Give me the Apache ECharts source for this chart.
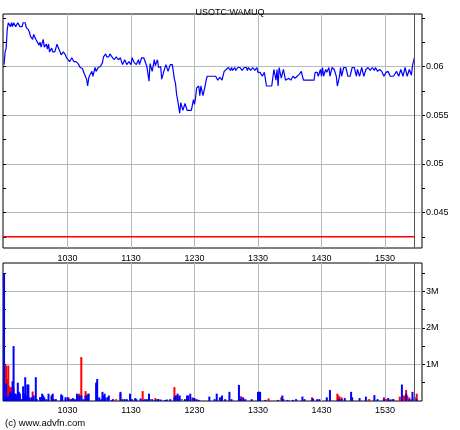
<!DOCTYPE html>
<html><head><meta charset="utf-8">
<script src="https://cdn.jsdelivr.net/npm/echarts@6/dist/echarts.min.js"></script>
<style>html,body{margin:0;padding:0;background:#fff}#c{width:460px;height:430px}</style>
</head><body><div id="c"></div>
<script>
const chartTitle = 'USOTC:WAMUQ';
const copyrightText = '(c) www.advfn.com';
// x axis in minutes after midnight
const timeMin = 569, timeMax = 965;
const hourTicks = [630, 690, 750, 810, 870, 930];
const sessionEnd = 957.5;
const prevClose = 0.0425;
const priceMin = 0.04135, priceMax = 0.0654;
const priceLabelTicks = [0.045, 0.05, 0.055, 0.06];
const priceMinorTicks = [0.0425, 0.045, 0.0475, 0.05, 0.0525, 0.055, 0.0575, 0.06, 0.0625, 0.065];
const volMax = 3.77; // millions
const volLabelTicks = [1, 2, 3];
const volMinorTicks = [0.5, 1, 1.5, 2, 2.5, 3, 3.5];

const priceTimes = [570,571,572,573,574,576,577,578,579,581,583,585,587,588,590,591,593,594,595,597,598,600,601,603,604,605,607,608,610,611,612,613,615,616,618,620,621,623,624,626,628,629,630,632,634,636,638,640,642,644,646,647,648,649,650,651,653,654,656,657,659,661,663,664,666,667,669,670,672,674,676,678,680,681,682,684,686,688,690,691,693,695,697,698,700,702,703,705,707,708,710,712,713,715,716,718,719,721,723,725,727,729,731,732,733,734,736,737,739,741,743,745,747,749,750,751,752,754,755,756,758,760,761,762,765,767,770,772,774,776,778,780,782,784,785,786,788,789,791,793,795,797,799,800,801,803,805,807,809,810,812,814,816,818,821,823,825,827,828,829,830,832,834,836,837,839,841,843,845,847,849,851,852,853,855,859,863,864,866,867,869,870,871,872,874,875,877,878,880,882,884,885,886,887,888,889,891,893,895,897,899,901,903,904,906,908,910,912,914,916,918,920,921,923,925,927,929,931,933,935,938,939,941,943,945,947,949,951,953,955,956,958];
const priceValues = [0.0602,0.0615,0.0619,0.0638,0.0645,0.0641,0.0645,0.0641,0.0645,0.0641,
0.0645,0.0641,0.0641,0.0645,0.0645,0.0640,0.0638,0.0635,0.0631,0.0628,
0.0633,0.0628,0.0630,0.0622,0.0625,0.0620,0.0628,0.0620,0.0623,0.0618,
0.0623,0.0615,0.0619,0.0615,0.0615,0.0623,0.0620,0.0615,0.0612,0.0615,
0.0612,0.0609,0.0609,0.0605,0.0609,0.0605,0.0605,0.0603,0.0599,0.0598,
0.0592,0.0590,0.0587,0.0580,0.0588,0.0591,0.0595,0.0590,0.0599,0.0595,
0.0599,0.0600,0.0604,0.0610,0.0613,0.0610,0.0610,0.0613,0.0610,0.0607,
0.0610,0.0607,0.0609,0.0605,0.0602,0.0607,0.0602,0.0605,0.0602,0.0609,
0.0604,0.0602,0.0607,0.0602,0.0609,0.0609,0.0607,0.0600,0.0585,0.0603,
0.0595,0.0607,0.0601,0.0607,0.0599,0.0600,0.0587,0.0595,0.0602,0.0595,
0.0602,0.0602,0.0587,0.0583,0.0572,0.0566,0.0552,0.0563,0.0555,0.0562,
0.0555,0.0555,0.0555,0.0566,0.0561,0.0568,0.0578,0.0580,0.0570,0.0580,
0.0570,0.0580,0.0586,0.0590,0.0590,0.0590,0.0590,0.0586,0.0589,0.0586,
0.0595,0.0597,0.0599,0.0596,0.0599,0.0596,0.0599,0.0596,0.0599,0.0599,
0.0596,0.0599,0.0599,0.0596,0.0599,0.0596,0.0599,0.0596,0.0599,0.0594,
0.0594,0.0590,0.0594,0.0580,0.0580,0.0580,0.0597,0.0586,0.0597,0.0580,
0.0599,0.0588,0.0597,0.0586,0.0586,0.0588,0.0586,0.0590,0.0588,0.0590,
0.0592,0.0595,0.0590,0.0586,0.0586,0.0586,0.0586,0.0594,0.0594,0.0590,
0.0597,0.0590,0.0599,0.0590,0.0597,0.0594,0.0599,0.0590,0.0599,0.0597,
0.0590,0.0580,0.0580,0.0590,0.0599,0.0590,0.0599,0.0599,0.0590,0.0590,
0.0599,0.0599,0.0590,0.0597,0.0590,0.0599,0.0590,0.0597,0.0599,0.0596,
0.0599,0.0596,0.0599,0.0595,0.0597,0.0595,0.0590,0.0594,0.0595,0.0590,
0.0590,0.0590,0.0595,0.0590,0.0597,0.0590,0.0599,0.0590,0.0597,0.0591,
0.0601,0.0610];

const volTimes = [570,571,572,573,574,575,576,577,578,579,
580,581,582,583,584,585,586,587,588,589,
590,591,592,593,594,595,596,597,598,600,
601,604,605,606,607,608,610,612,615,616,
617,619,624,625,628,630,631,633,634,635,
637,639,640,641,643,645,647,648,649,650,
657,658,659,660,662,663,664,665,666,668,
669,672,673,676,680,681,682,684,686,689,
691,694,695,699,701,703,705,707,708,710,
713,715,716,718,722,724,727,731,732,733,
734,735,736,738,741,743,744,746,748,749,
750,752,754,764,769,771,774,776,779,783,
785,792,794,796,798,804,810,811,812,817,
820,829,832,833,834,838,843,846,852,854,
861,862,866,868,875,878,885,886,887,889,
892,898,899,906,912,915,920,923,929,931,
933,935,937,938,944,946,948,950,951,953,
955,956,958,960];
const volRed = [0,.97,.97,.6,.97,.4,.35,.38,.3,.35,
.05,.1,.15,.1,.05,0,.05,0,.05,.05,
.1,0,.05,0,0,0,.05,.26,.05,.05,
0,.1,.05,.1,.08,.05,0,0,.15,.05,
0,0,.05,0,0,.05,.1,0,.05,0,
0,.15,.05,.2,1.2,0,.27,.1,.2,0,
0,0,0,.03,0,.05,.05,0,0,.03,
0,0,0,.05,.2,.03,0,0,.03,0,
0,.05,0,0,.27,0,0,.15,.05,0,
.08,0,0,0,0,0,0,.38,.05,.15,
.15,.1,0,.05,0,.1,0,0,.1,0,
0,0,0,0,0,0,0,0,0,0,
0,0,.13,0,0,0,0,0,0,0,
.07,0,.1,0,0,0,0,0,0,0,
.1,.05,0,0,0,0,.2,.15,.12,.1,
0,0,0,0,0,.05,0,0,.1,.05,
0,.03,.05,0,.12,0,.15,.3,.15,.1,
.05,0,0,.2];
const volGreen = [0,0,0,0,0,0,.05,.06,0,.05,
0,0,.03,0,0,0,0,0,0,.02,
0,0,0,0,0,0,0,0,0,0,
0,.05,0,0,.04,0,0,0,0,0,
0,0,0,0,0,.03,0,0,0,0,
0,0,0,0,.04,0,0,0,0,0,
0,0,0,0,0,0,.02,0,0,0,
0,0,0,0,0,0,0,0,0,0,
0,0,0,0,0,0,0,0,.02,0,
0,0,0,0,0,0,0,0,0,0,
.05,0,0,.04,0,0,0,0,0,0,
0,0,0,0,0,0,0,0,0,0,
0,0,0,0,0,0,0,0,0,0,
0,0,0,0,0,0,0,0,0,0,
0,0,0,0,0,0,.03,.02,.03,0,
0,0,0,0,0,0,0,0,0,0,
0,0,0,0,0,0,0,0,0,0,
0,0,0,0];
const volBlue = [3.47,.1,.48,.1,.12,.15,.25,.2,.54,1.5,
.2,.2,.15,.5,.25,.2,0,.05,.4,.2,
.65,.15,.45,.45,.1,.05,.1,.05,.15,.65,
.05,.1,.1,.2,.15,.1,.05,.2,.15,.2,
.05,.05,.18,.15,.1,.1,.05,.05,0,.08,
.05,.2,0,.15,.15,.05,.15,.15,.05,.2,
.5,.6,.05,.1,.05,.25,.15,.2,.1,.1,
.15,.03,.05,0,.25,0,.05,.05,.05,.2,
.05,.08,.05,.07,.03,.05,.05,.2,0,.05,
.03,.05,.05,.04,.03,.04,.05,.1,.15,0,
.2,.05,.15,0,.05,.15,.15,.2,0,.08,
.08,.05,.03,.12,.05,.2,.1,.15,.05,.25,
.05,.44,.07,.1,.05,.05,.25,.25,.25,.03,
0,.03,0,.15,.05,.03,.03,.05,.12,.05,
.03,.07,.05,.05,.1,.3,.02,.05,.05,.05,
.08,.25,.1,.08,.12,0,.16,.05,.06,0,
.08,.04,0,.05,0,.45,0,.2,0,.05,
0,.25,.1,.05];

const FONT = 'Liberation Sans, Arial, sans-serif';
const gridColor = '#b3bcbc';
const fmtTime = m => String(Math.floor(m / 60)) + String(m % 60).padStart(2, '0');
const pair = (ts, vs) => ts.map((t, i) => [t, vs[i]]);

const chart = echarts.init(document.getElementById('c'), null, {renderer: 'canvas'});

function xAxisFor(gi, margin) {
  return {
    gridIndex: gi, type: 'value', min: timeMin, max: timeMax,
    axisLine: {show: false},
    axisTick: {show: false, customValues: hourTicks},
    axisLabel: {customValues: hourTicks, formatter: fmtTime, fontSize: 9, fontFamily: FONT, color: '#000', margin: margin},
    splitLine: {show: true, lineStyle: {color: gridColor, width: 1}}
  };
}
function yAxesFor(gi, min, max, minor, labels, fmt) {
  return [
    {gridIndex: gi, type: 'value', position: 'right', min, max,
     axisLine: {show: false},
     axisTick: {show: true, customValues: minor, length: 3, lineStyle: {color: '#000'}},
     axisLabel: {customValues: labels, formatter: fmt, fontSize: 9, fontFamily: FONT, color: '#000', margin: 4},
     splitLine: {show: false}},
    {gridIndex: gi, type: 'value', position: 'left', min, max,
     axisLine: {show: false},
     axisTick: {show: true, inside: true, customValues: minor, length: 3, lineStyle: {color: '#000'}},
     axisLabel: {show: false}, splitLine: {show: false}},
    {gridIndex: gi, type: 'value', position: 'left', min, max,
     axisLine: {show: false},
     axisTick: {show: false, customValues: labels},
     axisLabel: {show: false},
     splitLine: {show: true, lineStyle: {color: gridColor, width: 1}}}
  ];
}

const endMarkLine = {
  silent: true, symbol: 'none', label: {show: false}, animation: false,
  lineStyle: {color: '#555', width: 1, type: 'solid'},
  data: [{xAxis: sessionEnd}]
};

const option = {
  animation: false,
  backgroundColor: '#fff',
  title: {text: chartTitle, left: 'center', top: 3,
          textStyle: {fontSize: 9, fontWeight: 'normal', color: '#000', fontFamily: FONT}},
  graphic: [{type: 'text', left: 5, top: 418,
             style: {text: copyrightText, fontSize: 9.5, fontFamily: FONT, fill: '#000'}}],
  grid: [
    {left: 3, top: 14, width: 419, height: 234, show: true, borderColor: '#000', borderWidth: 1, backgroundColor: 'rgba(0,0,0,0)'},
    {left: 3, top: 263, width: 419, height: 138, show: true, borderColor: '#000', borderWidth: 1, backgroundColor: 'rgba(0,0,0,0)'}
  ],
  xAxis: [xAxisFor(0, 6), xAxisFor(1, 5)],
  yAxis: [
    ...yAxesFor(0, priceMin, priceMax, priceMinorTicks, priceLabelTicks, v => String(v)),
    ...yAxesFor(1, 0, volMax, volMinorTicks, volLabelTicks, v => v + 'M')
  ],
  series: [
    {type: 'line', name: 'prev', xAxisIndex: 0, yAxisIndex: 0, showSymbol: false, silent: true,
     data: [[timeMin, prevClose], [sessionEnd, prevClose]],
     lineStyle: {color: '#ff0000', width: 1.5}, z: 3},
    {type: 'line', name: 'price', xAxisIndex: 0, yAxisIndex: 0, showSymbol: false, silent: true,
     data: pair(priceTimes, priceValues),
     lineStyle: {color: '#0000ff', width: 1.2}, z: 4,
     markLine: endMarkLine},
    {type: 'bar', name: 'red', stack: 'vol', xAxisIndex: 1, yAxisIndex: 3, barWidth: 2,
     data: pair(volTimes, volRed), itemStyle: {color: '#ff0000'}, silent: true,
     markLine: endMarkLine},
    {type: 'bar', name: 'green', stack: 'vol', xAxisIndex: 1, yAxisIndex: 3, barWidth: 2,
     data: pair(volTimes, volGreen), itemStyle: {color: '#00b000'}, silent: true},
    {type: 'bar', name: 'blue', stack: 'vol', xAxisIndex: 1, yAxisIndex: 3, barWidth: 2,
     data: pair(volTimes, volBlue), itemStyle: {color: '#0000ff'}, silent: true}
  ]
};
chart.setOption(option);
</script>
</body></html>
